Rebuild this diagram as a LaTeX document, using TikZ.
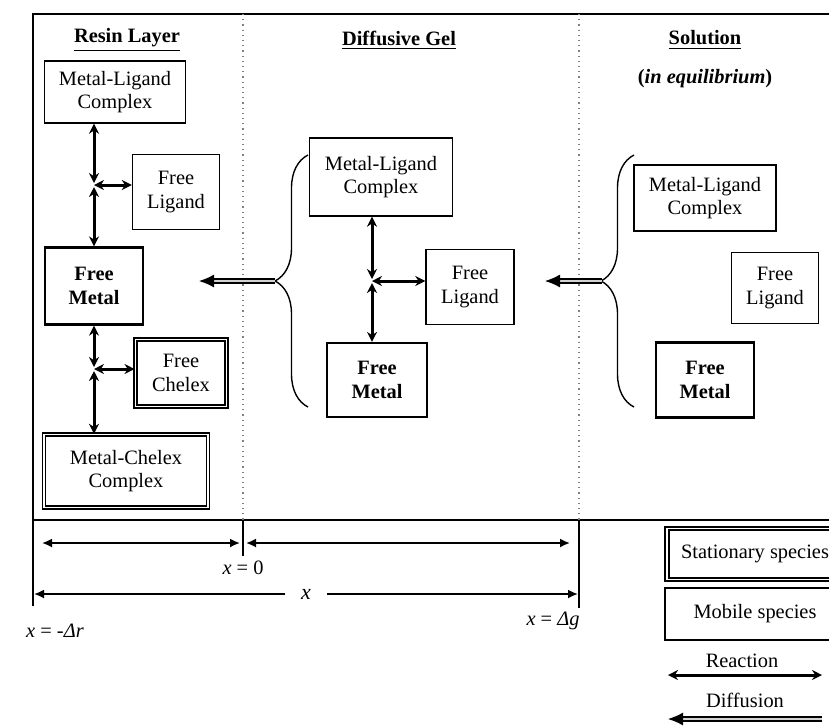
\documentclass[tikz,border=0pt]{standalone}
\usepackage{fontspec}
\setmainfont{Liberation Serif}
\usetikzlibrary{positioning,arrows.meta,decorations.pathreplacing}

\begin{document}
\begin{tikzpicture}[
  x=0.5pt,y=-0.5pt,
  sz/.style 2 args={minimum width=#1*0.5pt,minimum height=#2*0.5pt},
  box/.style={draw,line width=0.7pt,align=center,inner sep=0pt,font=\fontsize{10.2}{11.6}\selectfont},
  metal/.style={box,line width=1.1pt,font=\fontsize{10.2}{11.6}\selectfont\bfseries},
  fixed/.style={box,double,double distance=0.8pt,line width=0.7pt},
  fixedthick/.style={fixed,line width=1pt,double distance=0.6pt},
  head/.style={font=\fontsize{10.2}{11.6}\selectfont\bfseries},
  lbl/.style={font=\fontsize{10.2}{11.6}\selectfont},
  react/.style={line width=1.5pt,{Stealth[length=5pt,width=5pt]}-{Stealth[length=5pt,width=5pt]}},
  diff/.style={line width=0.6pt,double=gray!35,double distance=1.4pt,-{Latex[length=7.5pt,width=6.5pt]}},
  dim/.style={line width=0.9pt,{Latex[length=5pt,width=4.5pt]}-{Latex[length=5pt,width=4.5pt]}},
  curly/.style={decorate,decoration={brace,amplitude=16.5pt},line width=0.7pt}]
\useasboundingbox (0,0) rectangle (829,725);
\clip (0,0) rectangle (829,725);
% frame and layer borders
\draw[line width=1.4pt] (33,606) -- (33,14) -- (840,14);
\draw[line width=1.1pt] (33,520) -- (840,520);
\draw[gray,dotted,line width=0.6pt] (243,14) -- (243,520) (579,14) -- (579,520);
\draw[line width=0.8pt] (243,520) -- (243,556) (579,520) -- (579,608);
% headings
\node[head] (hres) at (127,40) {\underline{Resin Layer}};
\node[head] (hgel) at (399,40) {\underline{Diffusive Gel}};
\node[head] (hsol) at (705,40) {\underline{Solution}};
\node[head,below=3pt of hsol] (heq) {(\textit{in equilibrium})};
% resin layer
\node[box,sz={141}{62}] (lml) at (115,92) {Metal-Ligand\\Complex};
\node[box,sz={87}{75}] (lfl) at (176,192) {Free\\Ligand};
\node[metal,sz={98}{77}] (lfm) at (94,286) {Free\\Metal};
\node[fixedthick,sz={91}{67}] (lfc) at (181,373) {Free\\Chelex};
\node[fixed,sz={164}{73}] (lmc) at (126,471) {Metal-Chelex\\Complex};
\coordinate (j1) at (94,185);
\coordinate (j2) at (94,369);
\draw[react,shorten >=1pt] (lml.south -| j1) -- (j1);
\draw[react,shorten <=1pt] (j1) -- (lfm.north);
\draw[react] (lfl.west |- j1) -- (j1);
\draw[react,shorten >=1pt] (lfm.south) -- (j2);
\draw[react,shorten <=1pt] (j2) -- (lmc.north -| j2);
\draw[react] (lfc.west |- j2) -- (j2);
% diffusive gel
\node[box,sz={143}{78}] (gml) at (381,177) {Metal-Ligand\\Complex};
\node[box,sz={88}{75}] (gfl) at (470,287) {Free\\Ligand};
\node[metal,sz={100}{74}] (gfm) at (377,380) {Free\\Metal};
\coordinate (j3) at (372,281);
\draw[react,shorten >=1pt] (gml.south -| j3) -- (j3);
\draw[react,shorten <=1pt] (j3) -- (gfm.north -| j3);
\draw[react] (gfl.west |- j3) -- (j3);
\draw[curly] (308,407) -- (308,155);
\coordinate (gtip) at (275,281);
\coordinate (gend) at (199,281);
\draw[diff] (gtip) -- (gend);
% solution
\node[box,sz={142}{66}] (sml) at (705,198) {Metal-Ligand\\Complex};
\node[box,sz={87}{71}] (sfl) at (775,288) {Free\\Ligand};
\node[metal,sz={98}{75}] (sfm) at (705,380) {Free\\Metal};
\draw[curly] (634,407) -- (634,155);
\coordinate (stip) at (602,281);
\coordinate (send) at (545,281);
\draw[diff] (stip) -- (send);
% position axis
\coordinate (a0) at (42,543);
\coordinate (a1) at (240,543);
\coordinate (a2) at (246,543);
\coordinate (a3) at (570,543);
\draw[dim] (a0) -- (a1);
\draw[dim] (a2) -- (a3);
\node[lbl] (xzero) at (243,568) {\textit{x} = 0};
\node[lbl,font=\fontsize{11}{12}\selectfont,minimum width=21pt] (xlab) at (306,594) {\textit{x}};
\coordinate (b0) at (34,594);
\coordinate (b1) at (578,594);
\draw[dim,{Latex[length=5pt,width=4.5pt]}-] (b0) -- (xlab.west);
\draw[dim,-{Latex[length=5pt,width=4.5pt]}] (xlab.east) -- (b1);
\node[lbl] (xr) at (55,631) {\textit{x} = \textit{-Δr}};
\node[lbl] (xg) at (553,621) {\textit{x} = \textit{Δg}};
% legend
\node[fixedthick,sz={176}{51}] (stat) at (755,554) {Stationary species};
\node[box,sz={180}{52}] (mob) at (755,614) {Mobile species};
\node[lbl] (lreact) at (742,661) {Reaction};
\coordinate (r0) at (668,675);
\coordinate (r1) at (822,675);
\draw[react] (r0) -- (r1);
\node[lbl] (ldiff) at (745,700) {Diffusion};
\coordinate (d0) at (822,719);
\coordinate (d1) at (668,719);
\draw[diff] (d0) -- (d1);
\end{tikzpicture}
\end{document}
